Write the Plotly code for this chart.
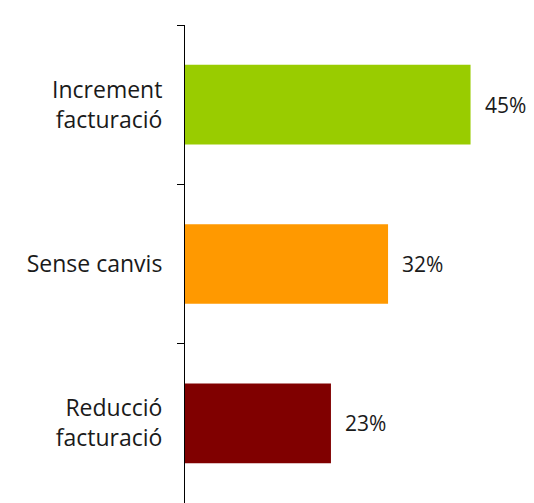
import plotly.graph_objects as go

categories = ["Increment<br>facturació", "Sense canvis", "Reducció<br>facturació"]
values = [0.45, 0.32, 0.23]
labels = ["45%", "32%", "23%"]
colors = ["#99CC00", "#FF9900", "#800000"]

fig = go.Figure()
fig.add_trace(go.Bar(
    x=values, y=categories, orientation="h",
    marker=dict(color=colors, line=dict(width=0)),
    width=0.5, hoverinfo="skip",
))
for v, c, t in zip(values, categories, labels):
    fig.add_annotation(x=v, y=c, text=t, showarrow=False, xanchor="left",
                       xshift=12, font=dict(size=21, color="#1a1a1a"))

fig.update_layout(
    width=526, height=495,
    margin=dict(l=177, r=0, t=17, b=0),
    plot_bgcolor="white", paper_bgcolor="white",
    font=dict(family="Open Sans, sans-serif", size=23, color="#1a1a1a"),
    showlegend=False,
    xaxis=dict(range=[0, 0.55], visible=False, fixedrange=True),
    yaxis=dict(range=[2.5, -0.5], showline=True, linecolor="#000", linewidth=1,
               ticks="outside", ticklen=7, tickcolor="#000", tickson="boundaries",
               ticklabelstandoff=17, showgrid=False, zeroline=False, fixedrange=True),
)
fig.write_html("out.html")
